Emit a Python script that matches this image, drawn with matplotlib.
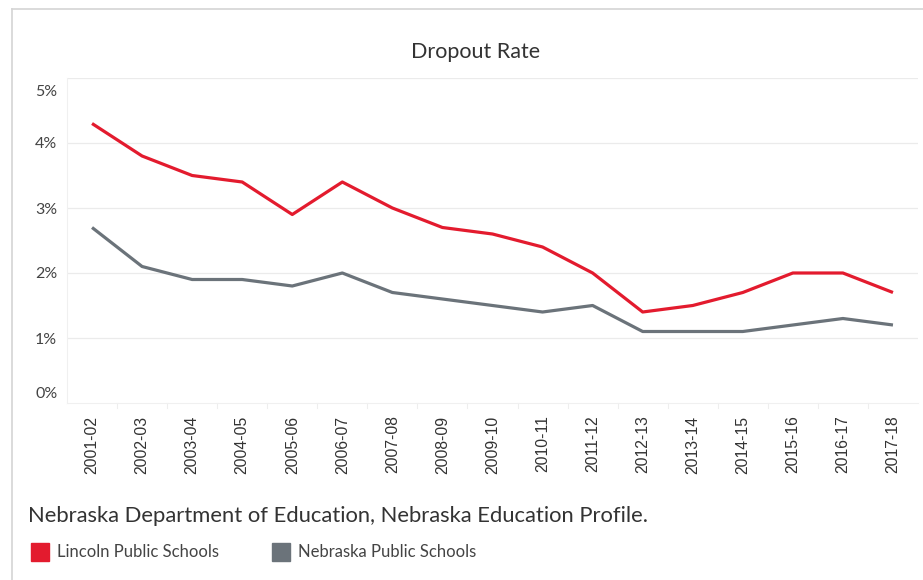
import matplotlib
matplotlib.use("Agg")
import matplotlib.pyplot as plt
import matplotlib.transforms as mtransforms
from matplotlib.patches import Rectangle
from matplotlib.lines import Line2D

years = ["2001-02", "2002-03", "2003-04", "2004-05", "2005-06", "2006-07", "2007-08",
         "2008-09", "2009-10", "2010-11", "2011-12", "2012-13", "2013-14", "2014-15",
         "2015-16", "2016-17", "2017-18"]
lincoln = [4.3, 3.8, 3.5, 3.4, 2.9, 3.4, 3.0, 2.7, 2.6, 2.4, 2.0, 1.4, 1.5, 1.7, 2.0, 2.0, 1.7]
nebraska = [2.7, 2.1, 1.9, 1.9, 1.8, 2.0, 1.7, 1.6, 1.5, 1.4, 1.5, 1.1, 1.1, 1.1, 1.2, 1.3, 1.2]
yticks = [0, 1, 2, 3, 4, 5]
ytick_labels = ["0%", "1%", "2%", "3%", "4%", "5%"]
series_names = ["Lincoln Public Schools", "Nebraska Public Schools"]

RED = "#E31B2E"
GREY = "#6B737A"
W, H = 923, 580

fig = plt.figure(figsize=(W / 100, H / 100), dpi=100)
fig.patch.set_facecolor("white")

# outer frame lines (left and top)
fig.add_artist(Line2D([12 / W, 12 / W], [0, 1 - 9 / H], color="#d4d4d4", lw=1.2))
fig.add_artist(Line2D([12 / W, 1], [1 - 9 / H, 1 - 9 / H], color="#d4d4d4", lw=1.2))

ax = fig.add_axes([67 / W, 1 - 403 / H, (918 - 67) / W, (403 - 78) / H])
x = list(range(len(years)))
ax.plot(x, lincoln, color=RED, lw=2.3, solid_joinstyle="round", solid_capstyle="butt", zorder=3)
ax.plot(x, nebraska, color=GREY, lw=2.3, solid_joinstyle="round", solid_capstyle="butt", zorder=3)

ax.set_xlim(-0.5, len(years) - 0.5)
ax.set_ylim(0, 5)
for s in ax.spines.values():
    s.set_visible(False)
ax.spines["left"].set_visible(True)
ax.spines["left"].set_color("#f0f0f0")
ax.spines["bottom"].set_visible(True)
ax.spines["bottom"].set_color("#f0f0f0")

ax.set_yticks(yticks)
ax.set_yticklabels(ytick_labels, fontsize=11.5, color="#444444", family="Lato")
ax.tick_params(axis="y", length=0, pad=7)
lbls = ax.get_yticklabels()
lbls[0].set_transform(lbls[0].get_transform() +
                      mtransforms.ScaledTranslation(0, 10 / 100, fig.dpi_scale_trans))
lbls[-1].set_transform(lbls[-1].get_transform() +
                       mtransforms.ScaledTranslation(0, -12 / 100, fig.dpi_scale_trans))
for yv in yticks[1:]:
    ax.axhline(yv, color="#ebebeb", lw=0.9, zorder=1)

ax.set_xticks(x)
ax.set_xticklabels(years, rotation=90, fontsize=11.3, color="#333333", family="Liberation Sans")
ax.tick_params(axis="x", length=0, pad=9)
for xv in x[:-1]:
    ax.plot([xv + 0.5, xv + 0.5], [0, -0.08], color="#eeeeee", lw=0.8, clip_on=False)

fig.text(476 / W, 1 - 52 / H, "Dropout Rate", ha="center", va="center",
         fontsize=15.5, color="#333333", family="Lato")

fig.text(28 / W, 1 - 516 / H, "Nebraska Department of Education, Nebraska Education Profile.",
         ha="left", va="center", fontsize=15.8, color="#333333", family="Lato")

for (sx, tx, col, name) in [(31, 57, RED, series_names[0]), (272, 298, GREY, series_names[1])]:
    fig.add_artist(Rectangle((sx / W, 1 - 561 / H), 18 / W, 18 / H, color=col,
                             transform=fig.transFigure))
    fig.text(tx / W, 1 - 552 / H, name, ha="left", va="center", fontsize=12,
             color="#444444", family="Lato")

fig.savefig("out.png", dpi=100, facecolor="white")
